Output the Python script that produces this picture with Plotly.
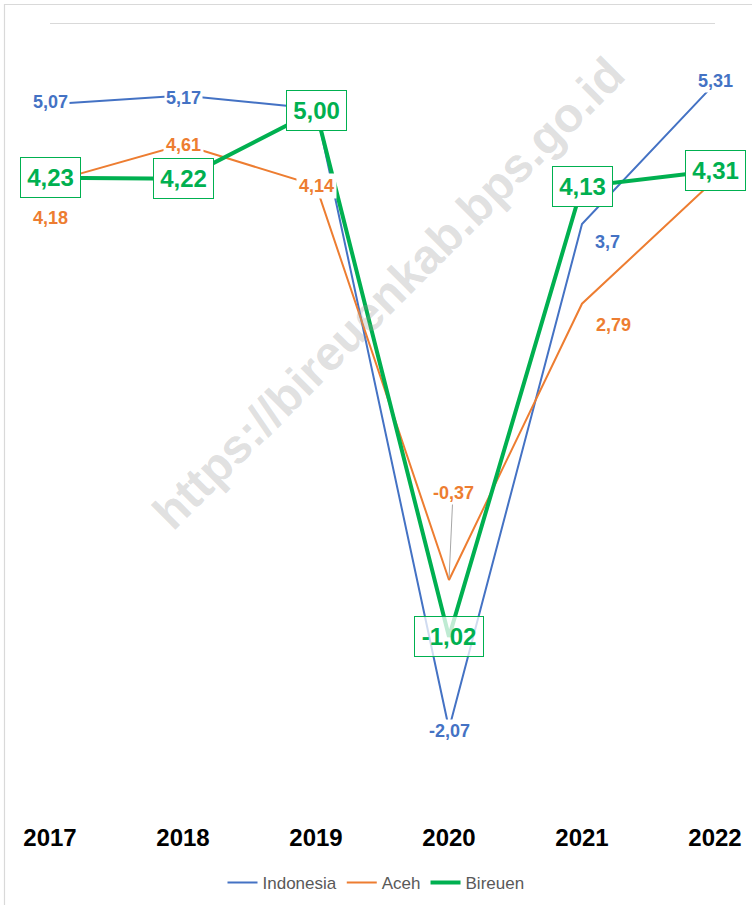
import plotly.graph_objects as go

years = ["2017", "2018", "2019", "2020", "2021", "2022"]
indonesia = [5.07, 5.17, 5.02, -2.07, 3.70, 5.31]
aceh = [4.18, 4.61, 4.14, -0.37, 2.79, 4.21]
bireuen = [4.23, 4.22, 5.00, -1.02, 4.13, 4.31]

BLUE = "#4472C4"
ORANGE = "#ED7D31"
GREEN = "#00B050"
SANS = "Liberation Sans, Arial, sans-serif"

W, H = 752, 905
PT, PB = 23, 810  # plot area top / bottom in px
YMIN, YMAX = -3, 6
X0PX, XSTEP = 50, 133

fig = go.Figure()
fig.add_trace(go.Scatter(x=years, y=indonesia, name="Indonesia", mode="lines",
                         line=dict(color=BLUE, width=2)))
fig.add_trace(go.Scatter(x=years, y=aceh, name="Aceh", mode="lines",
                         line=dict(color=ORANGE, width=2)))
fig.add_trace(go.Scatter(x=years, y=bireuen, name="Bireuen", mode="lines",
                         line=dict(color=GREEN, width=4)))


def fmt(v, fixed=False):
    s = f"{v:.2f}" if fixed else f"{v:g}"
    return s.replace(".", ",")


annotations = []

# watermark
annotations.append(dict(
    text="https://bireuenkab.bps.go.id", xref="paper", yref="paper",
    x=388 / W, y=(PB - 293) / (PB - PT), showarrow=False, textangle=-45,
    font=dict(family=SANS, size=48, color="rgba(150,150,150,0.30)", weight="bold"),
))

# label offsets (px) per series (style only); None = label hidden behind Bireuen box
ind_off = [(0, 2), (0, -2), None, (0, -2), (25, -18), (0, 2)]
aceh_off = [(0, -36), (0, 0), (0, 0), "leader", (31, -21), None]

lab_font = dict(family=SANS, size=18, weight="bold")

for i, v in enumerate(indonesia):
    off = ind_off[i]
    if off is None:
        continue
    dx, dy = off
    annotations.append(dict(xref="x", yref="y", x=i, y=v, text=fmt(v), showarrow=False,
                            xshift=dx, yshift=dy, bgcolor="white", borderpad=1,
                            font=dict(lab_font, color=BLUE)))
for i, v in enumerate(aceh):
    off = aceh_off[i]
    if off is None:
        continue
    if off == "leader":
        annotations.append(dict(xref="x", yref="y", x=i, y=v, text=fmt(v), showarrow=True,
                                arrowhead=0, arrowwidth=1, arrowcolor="#A6A6A6",
                                ax=4, ay=-87, standoff=2, bgcolor="white", borderpad=1,
                                font=dict(lab_font, color=ORANGE)))
    else:
        dx, dy = off
        annotations.append(dict(xref="x", yref="y", x=i, y=v, text=fmt(v), showarrow=False,
                                xshift=dx, yshift=dy, bgcolor="white", borderpad=2,
                                font=dict(lab_font, color=ORANGE)))
for i, v in enumerate(bireuen):
    bg = "rgba(255,255,255,0.75)" if v < 0 else "white"
    annotations.append(dict(xref="x", yref="y", x=i, y=v, text=fmt(v, True), showarrow=False,
                            bgcolor=bg, bordercolor=GREEN, borderwidth=1, borderpad=2,
                            width=55 if v >= 0 else 64, height=35,
                            font=dict(family=SANS, size=24, color=GREEN, weight="bold")))

shapes = [
    # top gridline
    dict(type="line", xref="x", yref="y", x0=0, x1=len(years) - 1, y0=YMAX, y1=YMAX,
         line=dict(color="#D9D9D9", width=2), layer="below"),
    # chart border
    dict(type="rect", xref="paper", yref="paper",
         x0=4.5 / W, x1=1.02, y0=(PB - 910) / (PB - PT), y1=(PB - 4.5) / (PB - PT),
         line=dict(color="#D9D9D9", width=1.2)),
]

fig.update_layout(
    width=W, height=H,
    margin=dict(l=0, r=0, t=PT, b=H - PB, autoexpand=False),
    paper_bgcolor="white", plot_bgcolor="white",
    showlegend=True,
    legend=dict(orientation="h", x=0.5, xanchor="center",
                y=(PB - 883) / (PB - PT), yanchor="middle",
                font=dict(family=SANS, size=17, color="#595959"),
                itemwidth=30, bgcolor="rgba(0,0,0,0)"),
    xaxis=dict(type="category", range=[-X0PX / XSTEP, (W - X0PX) / XSTEP],
               showgrid=False, showline=False, zeroline=False, ticks="",
               tickfont=dict(family=SANS, size=24, color="black", weight="bold"),
               ticklabelstandoff=11, automargin=False, fixedrange=True),
    yaxis=dict(range=[YMIN, YMAX], showticklabels=False, showgrid=False, zeroline=False,
               showline=False, ticks="", fixedrange=True),
    annotations=annotations,
    shapes=shapes,
)

fig.write_html("out.html", config={"displayModeBar": False},
               post_script="document.body.style.margin='0';")
